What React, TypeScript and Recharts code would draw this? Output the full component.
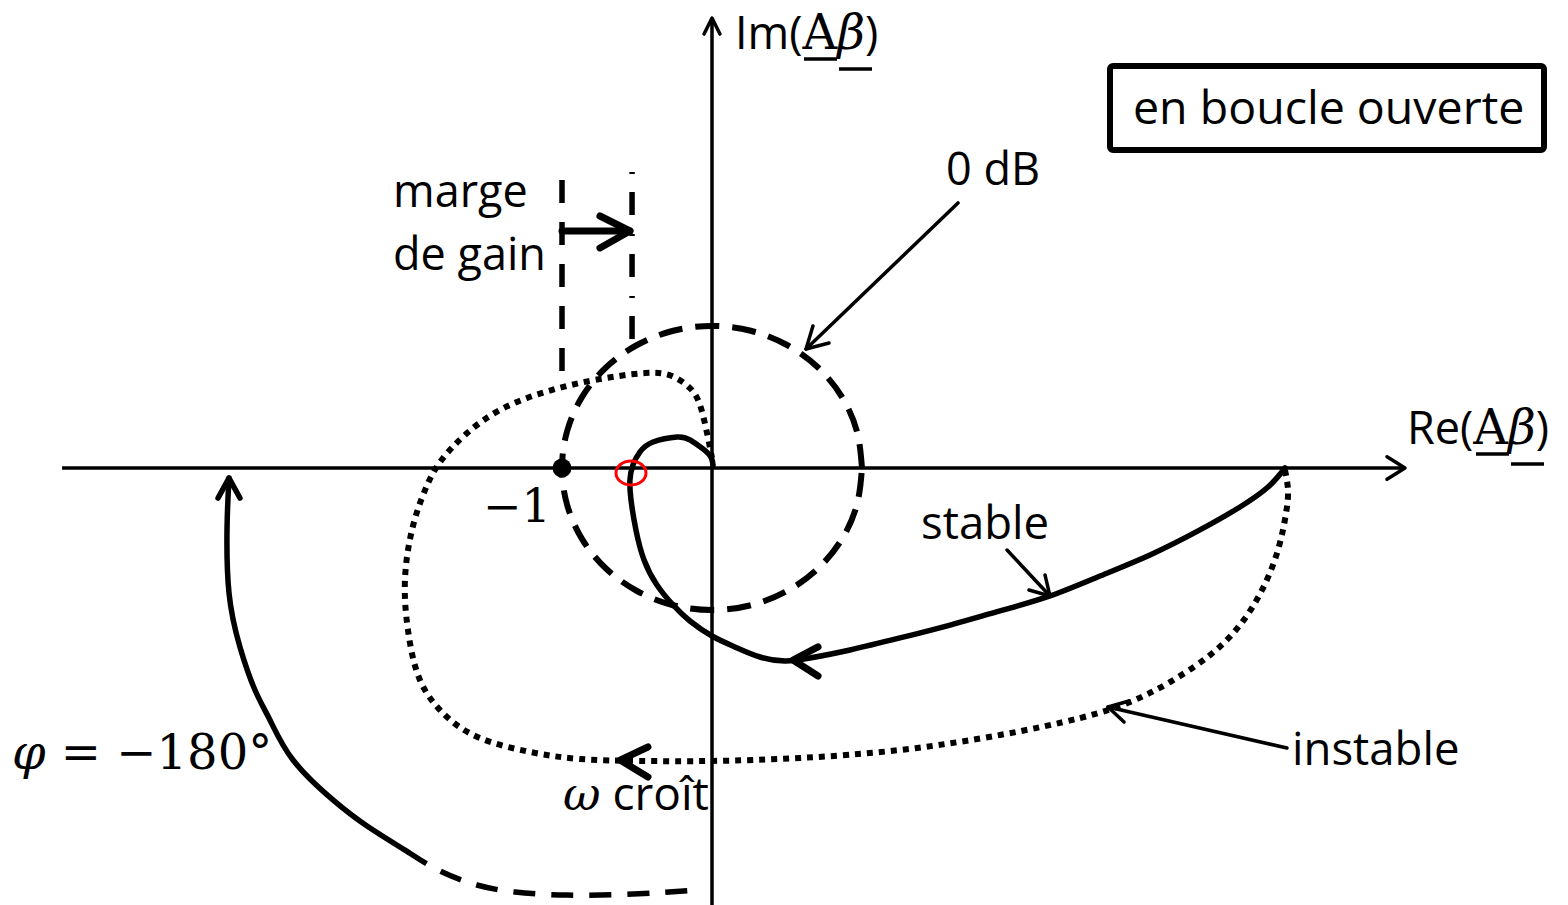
import React from 'react';
import { ComposedChart, Line, XAxis, YAxis, ReferenceDot } from 'recharts';

// Nyquist plane, values in units of |Aβ| (the -1 point sits at re = -1)
type Pt = { x: number; y: number };

const W = 1568;
const H = 905;
const X_DOMAIN: [number, number] = [-4.7467, 5.7067];
const Y_DOMAIN: [number, number] = [-2.9133, 3.12];

const realAxis: Pt[] = [{ x: -4.333, y: 0 }, { x: 4.62, y: 0 }];
const realArrow: Pt[] = [{ x: 4.5, y: 0.075 }, { x: 4.62, y: 0 }, { x: 4.5, y: -0.075 }];
const imagAxis: Pt[] = [{ x: 0, y: -2.92 }, { x: 0, y: 3.0 }];
const imagArrow: Pt[] = [{ x: -0.053, y: 2.893 }, { x: 0, y: 3.0 }, { x: 0.053, y: 2.893 }];

// 0 dB circle, every 15°
const zeroDb: Pt[] = [
  { x: 1, y: 0 }, { x: 0.966, y: 0.245 }, { x: 0.866, y: 0.474 }, { x: 0.707, y: 0.67 },
  { x: 0.5, y: 0.82 }, { x: 0.259, y: 0.915 }, { x: 0, y: 0.947 }, { x: -0.259, y: 0.915 },
  { x: -0.5, y: 0.82 }, { x: -0.707, y: 0.67 }, { x: -0.866, y: 0.474 }, { x: -0.966, y: 0.245 },
  { x: -1, y: 0 }, { x: -0.966, y: -0.245 }, { x: -0.866, y: -0.474 }, { x: -0.707, y: -0.67 },
  { x: -0.5, y: -0.82 }, { x: -0.259, y: -0.915 }, { x: 0, y: -0.947 }, { x: 0.259, y: -0.915 },
  { x: 0.5, y: -0.82 }, { x: 0.707, y: -0.67 }, { x: 0.866, y: -0.474 }, { x: 0.966, y: -0.245 },
  { x: 1, y: 0 },
];

const stable: Pt[] = [
  { x: 3.82, y: 0 }, { x: 3.707, y: -0.127 }, { x: 3.52, y: -0.26 }, { x: 3.253, y: -0.413 },
  { x: 2.92, y: -0.58 }, { x: 2.587, y: -0.72 }, { x: 2.253, y: -0.853 }, { x: 1.92, y: -0.953 },
  { x: 1.587, y: -1.047 }, { x: 1.253, y: -1.133 }, { x: 0.92, y: -1.213 }, { x: 0.653, y: -1.267 },
  { x: 0.487, y: -1.287 }, { x: 0.32, y: -1.26 }, { x: 0.153, y: -1.193 }, { x: 0, y: -1.12 },
  { x: -0.147, y: -1.02 }, { x: -0.26, y: -0.913 }, { x: -0.367, y: -0.78 }, { x: -0.453, y: -0.613 },
  { x: -0.507, y: -0.413 }, { x: -0.54, y: -0.213 }, { x: -0.547, y: -0.08 }, { x: -0.527, y: 0.02 },
  { x: -0.48, y: 0.107 }, { x: -0.393, y: 0.173 }, { x: -0.233, y: 0.207 }, { x: -0.147, y: 0.187 },
  { x: -0.06, y: 0.127 }, { x: -0.007, y: 0.073 }, { x: 0.007, y: 0.02 },
];
const stableArrow: Pt[] = [{ x: 0.707, y: -1.193 }, { x: 0.54, y: -1.28 }, { x: 0.707, y: -1.387 }];

const instable: Pt[] = [
  { x: 3.82, y: -0.013 }, { x: 3.84, y: -0.147 }, { x: 3.827, y: -0.3 }, { x: 3.773, y: -0.547 },
  { x: 3.667, y: -0.813 }, { x: 3.52, y: -1.047 }, { x: 3.32, y: -1.247 }, { x: 3.053, y: -1.427 },
  { x: 2.787, y: -1.56 }, { x: 2.453, y: -1.667 }, { x: 1.92, y: -1.78 }, { x: 1.253, y: -1.88 },
  { x: 0.587, y: -1.933 }, { x: 0, y: -1.953 }, { x: -0.48, y: -1.953 }, { x: -0.88, y: -1.94 },
  { x: -1.213, y: -1.893 }, { x: -1.547, y: -1.8 }, { x: -1.78, y: -1.647 }, { x: -1.947, y: -1.413 },
  { x: -2.027, y: -1.08 }, { x: -2.047, y: -0.747 }, { x: -2.0, y: -0.413 }, { x: -1.913, y: -0.147 },
  { x: -1.813, y: 0.04 }, { x: -1.647, y: 0.22 }, { x: -1.413, y: 0.387 }, { x: -1.113, y: 0.507 },
  { x: -0.78, y: 0.587 }, { x: -0.447, y: 0.633 }, { x: -0.267, y: 0.613 }, { x: -0.147, y: 0.533 },
  { x: -0.08, y: 0.42 }, { x: -0.033, y: 0.233 }, { x: 0, y: 0.067 },
];
const instableArrow: Pt[] = [{ x: -0.427, y: -1.86 }, { x: -0.613, y: -1.947 }, { x: -0.427, y: -2.06 }];

// phase -180° path, solid part then dashed tail
const phaseSolid: Pt[] = [
  { x: -3.22, y: -0.067 }, { x: -3.233, y: -0.393 }, { x: -3.22, y: -0.833 }, { x: -3.147, y: -1.193 },
  { x: -3.047, y: -1.48 }, { x: -2.947, y: -1.68 }, { x: -2.793, y: -1.947 }, { x: -2.527, y: -2.213 },
  { x: -2.3, y: -2.387 }, { x: -2.027, y: -2.56 },
];
const phaseDashed: Pt[] = [
  { x: -2.027, y: -2.56 }, { x: -1.813, y: -2.687 }, { x: -1.567, y: -2.78 }, { x: -1.313, y: -2.827 },
  { x: -0.967, y: -2.847 }, { x: -0.527, y: -2.84 }, { x: -0.1, y: -2.813 },
];
const phaseArrow: Pt[] = [{ x: -3.293, y: -0.2 }, { x: -3.22, y: -0.067 }, { x: -3.147, y: -0.2 }];

// gain margin guides
const gainLeft: Pt[] = [{ x: -1, y: 1.92 }, { x: -1, y: 0.6 }];
const gainRight: Pt[] = [{ x: -0.533, y: 1.973 }, { x: -0.533, y: 0.787 }];
const gainShaft: Pt[] = [{ x: -1, y: 1.58 }, { x: -0.547, y: 1.58 }];
const gainArrow: Pt[] = [{ x: -0.747, y: 1.68 }, { x: -0.547, y: 1.58 }, { x: -0.747, y: 1.467 }];

// callout pointers
const zeroDbPointer: Pt[] = [{ x: 1.64, y: 1.767 }, { x: 0.627, y: 0.793 }];
const zeroDbHead: Pt[] = [{ x: 0.78, y: 0.833 }, { x: 0.627, y: 0.793 }, { x: 0.673, y: 0.947 }];
const stablePointer: Pt[] = [{ x: 1.967, y: -0.547 }, { x: 2.253, y: -0.853 }];
const stableHead: Pt[] = [{ x: 2.22, y: -0.713 }, { x: 2.253, y: -0.853 }, { x: 2.113, y: -0.813 }];
const instablePointer: Pt[] = [{ x: 3.833, y: -1.867 }, { x: 2.64, y: -1.593 }];
const instableHead: Pt[] = [{ x: 2.78, y: -1.553 }, { x: 2.64, y: -1.593 }, { x: 2.747, y: -1.693 }];

const minusOne = { x: -1, y: 0 };
const crossing = { x: -0.54, y: -0.033 };

const SANS = "'Open Sans', sans-serif";
const MATH = "'DejaVu Serif', serif";

function Path({ data, width = 5, dash, curve = 'natural', cap = 'round' }: {
  data: Pt[]; width?: number; dash?: string; curve?: 'natural' | 'linear'; cap?: 'round' | 'butt';
}) {
  return (
    <Line
      data={data}
      dataKey="y"
      type={curve}
      stroke="#000"
      strokeWidth={width}
      strokeDasharray={dash}
      strokeLinecap={cap}
      strokeLinejoin="round"
      dot={false}
      activeDot={false}
      isAnimationActive={false}
    />
  );
}

function AxisLabel({ x, y, name }: { x: number; y: number; name: string }) {
  return (
    <g>
      <text x={x} y={y} fontFamily={SANS} fontSize={45} fill="#000">
        {name}(
        <tspan fontFamily={MATH} fontSize={48}>A</tspan>
        <tspan fontFamily={MATH} fontSize={48} fontStyle="italic">β</tspan>)
      </text>
      <line x1={x + 69} x2={x + 102} y1={y + 10} y2={y + 10} stroke="#000" strokeWidth={3.5} />
      <line x1={x + 104} x2={x + 137} y1={y + 20} y2={y + 20} stroke="#000" strokeWidth={3.5} />
    </g>
  );
}

export default function App() {
  return (
    <div style={{ position: 'absolute', left: 0, top: 0, width: W, height: H, background: '#fff' }}>
      <ComposedChart width={W} height={H} margin={{ top: 0, right: 0, bottom: 0, left: 0 }}>
        <XAxis type="number" dataKey="x" domain={X_DOMAIN} allowDataOverflow hide />
        <YAxis type="number" dataKey="y" domain={Y_DOMAIN} allowDataOverflow hide />

        <Path data={realAxis} width={3.5} curve="linear" cap="butt" />
        <Path data={realArrow} width={3.5} curve="linear" />
        <Path data={imagAxis} width={3.5} curve="linear" cap="butt" />
        <Path data={imagArrow} width={3.5} curve="linear" />

        <Path data={zeroDb} width={6} dash="24 13" cap="butt" />

        <Path data={gainLeft} width={5.5} dash="23 19" curve="linear" cap="butt" />
        <Path data={gainRight} width={5.5} dash="2 18 23 19" curve="linear" cap="butt" />
        <Path data={gainShaft} width={7} curve="linear" />
        <Path data={gainArrow} width={7} curve="linear" />

        <Path data={instable} width={6} dash="6 6" cap="butt" />
        <Path data={instableArrow} width={7} curve="linear" />

        <Path data={stable} width={5.5} />
        <Path data={stableArrow} width={7} curve="linear" />

        <Path data={phaseSolid} width={5.5} />
        <Path data={phaseDashed} width={5.5} dash="22 16" cap="butt" />
        <Path data={phaseArrow} width={5.5} curve="linear" />

        <Path data={zeroDbPointer} width={3.5} curve="linear" />
        <Path data={zeroDbHead} width={3.5} curve="linear" />
        <Path data={stablePointer} width={3.5} curve="linear" />
        <Path data={stableHead} width={3.5} curve="linear" />
        <Path data={instablePointer} width={3.5} curve="linear" />
        <Path data={instableHead} width={3.5} curve="linear" />

        <ReferenceDot x={minusOne.x} y={minusOne.y} r={9.5} fill="#000" stroke="none" />
        <ReferenceDot
          x={crossing.x}
          y={crossing.y}
          r={13}
          shape={(p: any) => (
            <ellipse cx={p.cx} cy={p.cy} rx={15} ry={12} fill="none" stroke="#ff0000" strokeWidth={3} />
          )}
        />

        <AxisLabel x={735} y={49} name="Im" />
        <AxisLabel x={1407} y={444} name="Re" />

        <rect x={1110} y={66} width={434} height={84} rx={3} fill="none" stroke="#000" strokeWidth={6} />
        <text x={1133} y={124} fontFamily={SANS} fontSize={46.5} fill="#000">en boucle ouverte</text>

        <text x={946} y={185} fontFamily={SANS} fontSize={45} fill="#000">0 dB</text>
        <text x={393} y={207} fontFamily={SANS} fontSize={45} fill="#000">marge</text>
        <text x={393} y={270} fontFamily={SANS} fontSize={45} fill="#000">de gain</text>
        <text x={921} y={539} fontFamily={SANS} fontSize={45.5} fill="#000">stable</text>
        <text x={1292} y={765} fontFamily={SANS} fontSize={45.5} fill="#000">instable</text>

        <text x={483} y={522} fontFamily={MATH} fontSize={46} fill="#000">−1</text>
        <text x={12} y={769} fontFamily={MATH} fontSize={48} fill="#000">
          <tspan fontStyle="italic">φ</tspan> = −180°
        </text>
        <text x={563} y={810} fontFamily={SANS} fontSize={46} fill="#000">
          <tspan fontFamily={MATH} fontStyle="italic">ω</tspan> croît
        </text>
      </ComposedChart>
    </div>
  );
}
